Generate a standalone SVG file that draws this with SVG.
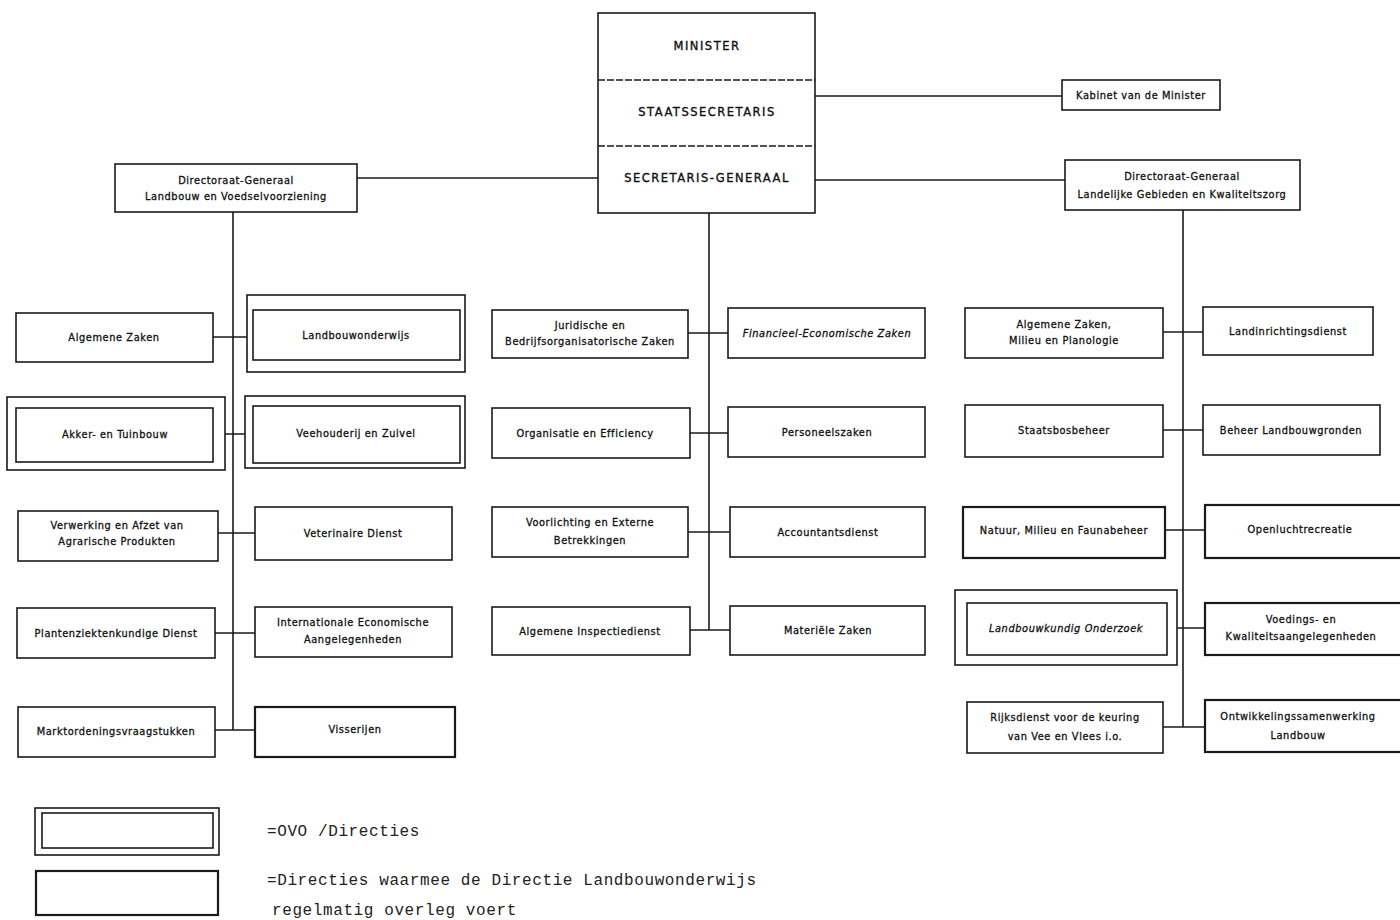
<svg xmlns="http://www.w3.org/2000/svg" width="1400" height="920" viewBox="0 0 1400 920">
<style>
.bx{fill:#fff;stroke:#1a1a1a;stroke-width:1.6}
.tk{fill:#fff;stroke:#1a1a1a;stroke-width:2.2}
.ln{fill:none;stroke:#1a1a1a;stroke-width:1.6}
.dash{fill:none;stroke:#1a1a1a;stroke-width:1.6;stroke-dasharray:7 2}
.t{font-family:"DejaVu Sans",sans-serif;font-size:9.8px;letter-spacing:0.6px;fill:#111;text-anchor:middle;stroke:#111;stroke-width:0.3}
.it{font-style:italic}
.h{font-family:"DejaVu Sans",sans-serif;font-size:11.5px;letter-spacing:1.5px;fill:#111;text-anchor:middle;stroke:#111;stroke-width:0.35}
.m{font-family:"Liberation Mono",monospace;font-size:16px;letter-spacing:0.6px;fill:#222}
</style>
<rect width="1400" height="920" fill="#fff"/>
<g id="connectors">
<line class="ln" x1="815" y1="96" x2="1062" y2="96"/>
<line class="ln" x1="357" y1="178" x2="598" y2="178"/>
<line class="ln" x1="815" y1="180" x2="1065" y2="180"/>
<line class="ln" x1="233" y1="212" x2="233" y2="730"/>
<line class="ln" x1="709" y1="213" x2="709" y2="630"/>
<line class="ln" x1="1183" y1="210" x2="1183" y2="727"/>
<line class="ln" x1="213" y1="337" x2="253" y2="337"/>
<line class="ln" x1="213" y1="434" x2="253" y2="434"/>
<line class="ln" x1="218" y1="533" x2="255" y2="533"/>
<line class="ln" x1="215" y1="633" x2="255" y2="633"/>
<line class="ln" x1="215" y1="730" x2="255" y2="730"/>
<line class="ln" x1="688" y1="333" x2="728" y2="333"/>
<line class="ln" x1="690" y1="433" x2="728" y2="433"/>
<line class="ln" x1="688" y1="532" x2="730" y2="532"/>
<line class="ln" x1="690" y1="630" x2="730" y2="630"/>
<line class="ln" x1="1163" y1="332" x2="1203" y2="332"/>
<line class="ln" x1="1163" y1="430" x2="1203" y2="430"/>
<line class="ln" x1="1165" y1="530" x2="1205" y2="530"/>
<line class="ln" x1="1167" y1="628" x2="1205" y2="628"/>
<line class="ln" x1="1163" y1="727" x2="1205" y2="727"/>
</g>
<g id="top">
<rect class="bx" x="598" y="13" width="217" height="200"/>
<line class="dash" x1="598" y1="80" x2="815" y2="80"/>
<line class="dash" x1="598" y1="146" x2="815" y2="146"/>
<text class="h" x="707" y="50">MINISTER</text>
<text class="h" x="707" y="116">STAATSSECRETARIS</text>
<text class="h" x="707" y="182">SECRETARIS-GENERAAL</text>
</g>
<g id="kabinet"><rect class="bx" x="1062" y="80" width="158" height="30"/><text class="t" x="1141" y="99">Kabinet van de Minister</text></g>
<g id="dg-lv"><rect class="bx" x="115" y="164" width="242" height="48"/><text class="t" x="236" y="184">Directoraat-Generaal</text><text class="t" x="236" y="200">Landbouw en Voedselvoorziening</text></g>
<g id="dg-lgk"><rect class="bx" x="1065" y="160" width="235" height="50"/><text class="t" x="1182" y="180">Directoraat-Generaal</text><text class="t" x="1182" y="198">Landelijke Gebieden en Kwaliteitszorg</text></g>

<g id="alg-zaken"><rect class="bx" x="16" y="313" width="197" height="49"/><text class="t" x="114" y="341">Algemene Zaken</text></g>
<g id="landbouwonderwijs"><rect class="bx" x="247" y="295" width="218" height="77"/><rect class="bx" x="253" y="310" width="207" height="50"/><text class="t" x="356" y="339">Landbouwonderwijs</text></g>
<g id="akker"><rect class="bx" x="7" y="397" width="218" height="73"/><rect class="bx" x="16" y="408" width="197" height="54"/><text class="t" x="115" y="438">Akker- en Tuinbouw</text></g>
<g id="veehouderij"><rect class="bx" x="245" y="396" width="220" height="72"/><rect class="bx" x="253" y="406" width="207" height="57"/><text class="t" x="356" y="437">Veehouderij en Zuivel</text></g>
<g id="verwerking"><rect class="bx" x="18" y="511" width="200" height="50"/><text class="t" x="117" y="529">Verwerking en Afzet van</text><text class="t" x="117" y="545">Agrarische Produkten</text></g>
<g id="veterinaire"><rect class="bx" x="255" y="507" width="197" height="53"/><text class="t" x="353" y="537">Veterinaire Dienst</text></g>
<g id="planten"><rect class="bx" x="17" y="608" width="198" height="50"/><text class="t" x="116" y="637">Plantenziektenkundige Dienst</text></g>
<g id="internationale"><rect class="bx" x="255" y="607" width="197" height="50"/><text class="t" x="353" y="626">Internationale Economische</text><text class="t" x="353" y="643">Aangelegenheden</text></g>
<g id="markt"><rect class="bx" x="18" y="707" width="197" height="50"/><text class="t" x="116" y="735">Marktordeningsvraagstukken</text></g>
<g id="visserijen"><rect class="tk" x="255" y="707" width="200" height="50"/><text class="t" x="355" y="733">Visserijen</text></g>

<g id="juridische"><rect class="bx" x="492" y="310" width="196" height="48"/><text class="t" x="590" y="329">Juridische en</text><text class="t" x="590" y="345">Bedrijfsorganisatorische Zaken</text></g>
<g id="financieel"><rect class="bx" x="728" y="308" width="197" height="50"/><text class="t it" x="827" y="337">Financieel-Economische Zaken</text></g>
<g id="organisatie"><rect class="bx" x="492" y="408" width="198" height="50"/><text class="t" x="585" y="437">Organisatie en Efficiency</text></g>
<g id="personeel"><rect class="bx" x="728" y="407" width="197" height="50"/><text class="t" x="827" y="436">Personeelszaken</text></g>
<g id="voorlichting"><rect class="bx" x="492" y="507" width="196" height="50"/><text class="t" x="590" y="526">Voorlichting en Externe</text><text class="t" x="590" y="544">Betrekkingen</text></g>
<g id="accountants"><rect class="bx" x="730" y="507" width="195" height="50"/><text class="t" x="828" y="536">Accountantsdienst</text></g>
<g id="inspectie"><rect class="bx" x="492" y="607" width="198" height="48"/><text class="t" x="590" y="635">Algemene Inspectiedienst</text></g>
<g id="materiele"><rect class="bx" x="730" y="606" width="195" height="49"/><text class="t" x="828" y="634">Materiële Zaken</text></g>

<g id="alg-milieu"><rect class="bx" x="965" y="308" width="198" height="50"/><text class="t" x="1064" y="328">Algemene Zaken,</text><text class="t" x="1064" y="344">Milieu en Planologie</text></g>
<g id="landinrichting"><rect class="bx" x="1203" y="307" width="170" height="48"/><text class="t" x="1288" y="335">Landinrichtingsdienst</text></g>
<g id="staatsbos"><rect class="bx" x="965" y="405" width="198" height="52"/><text class="t" x="1064" y="434">Staatsbosbeheer</text></g>
<g id="beheer"><rect class="bx" x="1203" y="405" width="177" height="50"/><text class="t" x="1291" y="434">Beheer Landbouwgronden</text></g>
<g id="natuur"><rect class="tk" x="963" y="507" width="202" height="51"/><text class="t" x="1064" y="534">Natuur, Milieu en Faunabeheer</text></g>
<g id="openlucht"><rect class="tk" x="1205" y="505" width="200" height="53"/><text class="t" x="1300" y="533">Openluchtrecreatie</text></g>
<g id="landbouwkundig"><rect class="bx" x="955" y="590" width="222" height="75"/><rect class="bx" x="967" y="603" width="200" height="52"/><text class="t it" x="1066" y="632">Landbouwkundig Onderzoek</text></g>
<g id="voedings"><rect class="tk" x="1205" y="603" width="200" height="52"/><text class="t" x="1301" y="623">Voedings- en</text><text class="t" x="1301" y="640">Kwaliteitsaangelegenheden</text></g>
<g id="rijksdienst"><rect class="bx" x="967" y="702" width="196" height="51"/><text class="t" x="1065" y="721">Rijksdienst voor de keuring</text><text class="t" x="1065" y="740">van Vee en Vlees i.o.</text></g>
<g id="ontwikkeling"><rect class="tk" x="1205" y="700" width="200" height="52"/><text class="t" x="1298" y="720">Ontwikkelingssamenwerking</text><text class="t" x="1298" y="739">Landbouw</text></g>

<g id="legend">
<rect class="bx" x="35" y="808" width="184" height="47"/>
<rect class="bx" x="42" y="813" width="171" height="35"/>
<text class="m" x="267" y="836">=OVO /Directies</text>
<rect class="tk" x="36" y="871" width="182" height="44"/>
<text class="m" x="267" y="885">=Directies waarmee de Directie Landbouwonderwijs</text>
<text class="m" x="272" y="915">regelmatig overleg voert</text>
</g>
</svg>
